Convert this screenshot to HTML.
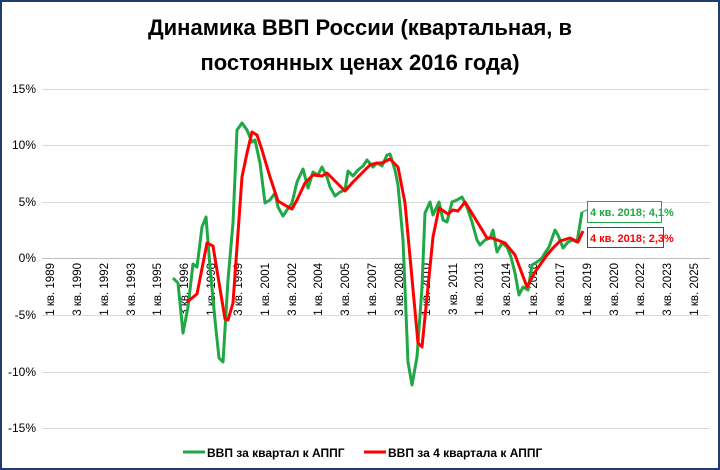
<!DOCTYPE html>
<html><head><meta charset="utf-8"><style>
html,body{margin:0;padding:0;background:#fff}
svg{display:block}
text{font-family:"Liberation Sans",sans-serif}
</style></head><body>
<svg width="720" height="470" viewBox="0 0 720 470" xmlns="http://www.w3.org/2000/svg">
<rect x="1" y="1" width="718" height="468" fill="#fff" stroke="#1f3b70" stroke-width="2"/>
<text x="360" y="35" text-anchor="middle" font-size="22" font-weight="bold" fill="#000">Динамика ВВП России (квартальная, в</text>
<text x="360" y="70" text-anchor="middle" font-size="22" font-weight="bold" fill="#000">постоянных ценах 2016 года)</text>
<g stroke="#d9d9d9" stroke-width="1">
<line x1="42" x2="710" y1="89.5" y2="89.5"/>
<line x1="42" x2="710" y1="145.5" y2="145.5"/>
<line x1="42" x2="710" y1="202.5" y2="202.5"/>
<line x1="42" x2="710" y1="315.5" y2="315.5"/>
<line x1="42" x2="710" y1="372.5" y2="372.5"/>
<line x1="42" x2="710" y1="428.5" y2="428.5"/>
</g>
<line x1="42" x2="710" y1="258.5" y2="258.5" stroke="#bfbfbf" stroke-width="1"/>
<g font-size="12" fill="#000" text-anchor="end">
<text x="36" y="93">15%</text><text x="36" y="149">10%</text><text x="36" y="206">5%</text>
<text x="36" y="262">0%</text><text x="36" y="319">-5%</text><text x="36" y="376">-10%</text><text x="36" y="432">-15%</text>
</g>
<g font-size="11.5" fill="#000" text-anchor="end">
<text transform="translate(54,263) rotate(-90)">1 кв. 1989</text>
<text transform="translate(81,263) rotate(-90)">3 кв. 1990</text>
<text transform="translate(108,263) rotate(-90)">1 кв. 1992</text>
<text transform="translate(135,263) rotate(-90)">3 кв. 1993</text>
<text transform="translate(161,263) rotate(-90)">1 кв. 1995</text>
<text transform="translate(188,263) rotate(-90)">3 кв. 1996</text>
<text transform="translate(215,263) rotate(-90)">1 кв. 1998</text>
<text transform="translate(242,263) rotate(-90)">3 кв. 1999</text>
<text transform="translate(269,263) rotate(-90)">1 кв. 2001</text>
<text transform="translate(296,263) rotate(-90)">3 кв. 2002</text>
<text transform="translate(322,263) rotate(-90)">1 кв. 2004</text>
<text transform="translate(349,263) rotate(-90)">3 кв. 2005</text>
<text transform="translate(376,263) rotate(-90)">1 кв. 2007</text>
<text transform="translate(403,263) rotate(-90)">3 кв. 2008</text>
<text transform="translate(430,263) rotate(-90)">1 кв. 2010</text>
<text transform="translate(457,263) rotate(-90)">3 кв. 2011</text>
<text transform="translate(483,263) rotate(-90)">1 кв. 2013</text>
<text transform="translate(510,263) rotate(-90)">3 кв. 2014</text>
<text transform="translate(537,263) rotate(-90)">1 кв. 2016</text>
<text transform="translate(564,263) rotate(-90)">3 кв. 2017</text>
<text transform="translate(591,263) rotate(-90)">1 кв. 2019</text>
<text transform="translate(618,263) rotate(-90)">3 кв. 2020</text>
<text transform="translate(644,263) rotate(-90)">1 кв. 2022</text>
<text transform="translate(671,263) rotate(-90)">3 кв. 2023</text>
<text transform="translate(698,263) rotate(-90)">1 кв. 2025</text>
</g>
<polyline fill="none" stroke="#1fa845" stroke-width="3" stroke-linejoin="round" points="173,278 178,283 183,333 188,307 193,264 197,267 202,227 206,217 210,267 215,320 219,358 223,362 228,280 233,223 237,130 242,123 247,130 252,142 255,140 260,163 265,203 270,200 275,193 278,207 283,216 287,210 292,203 297,182 303,169 308,188 313,172 318,175 322,167 327,177 330,187 335,196 340,192 345,190 348,171 353,176 358,170 363,166 367,160 373,167 377,163 382,166 387,155 390,154 395,170 398,185 403,240 408,362 412,385 417,357 422,287 425,213 430,202 433,215 439,202 443,220 447,222 452,202 457,200 462,197 467,207 472,222 477,240 480,245 485,240 490,238 493,230 497,252 502,243 507,247 511,257 515,273 519,295 523,287 528,290 532,265 537,262 542,258 545,253 549,247 555,230 558,235 563,248 568,242 573,240 577,242 582,212"/>
<polyline fill="none" stroke="#ff0000" stroke-width="3" stroke-linejoin="round" points="187,302 197,294 207,243 213,246 225,319 228,320 233,303 242,177 247,153 252,132 257,135 262,150 270,177 278,201 288,207 292,209 297,200 305,183 313,175 322,176 327,173 337,183 345,191 353,182 363,172 370,165 377,163 382,163 390,159 398,167 405,203 418,343 422,347 433,237 439,208 448,214 453,210 458,211 465,202 473,215 487,238 492,238 505,243 515,255 527,287 535,272 547,255 553,248 560,241 570,238 578,242 583,231"/>
<line x1="582" y1="212" x2="587" y2="210" stroke="#1fa845" stroke-width="1"/>
<rect x="587.5" y="201.5" width="74" height="21" fill="#fff" stroke="#1fa845" stroke-width="1"/>
<text x="590" y="216" font-size="11" font-weight="bold" fill="#1fa845">4 кв. 2018; 4,1%</text>
<rect x="587.5" y="227.5" width="76" height="20" fill="#fff" stroke="#ff0000" stroke-width="1"/>
<text x="590" y="242" font-size="11" font-weight="bold" fill="#ff0000">4 кв. 2018; 2,3%</text>
<line x1="183" x2="205" y1="452" y2="452" stroke="#1fa845" stroke-width="3"/>
<text x="207" y="457" font-size="12" font-weight="bold" fill="#000">ВВП за квартал к АППГ</text>
<line x1="364" x2="386" y1="452" y2="452" stroke="#ff0000" stroke-width="3"/>
<text x="388" y="457" font-size="12" font-weight="bold" fill="#000">ВВП за 4 квартала к АППГ</text>
</svg>
</body></html>
